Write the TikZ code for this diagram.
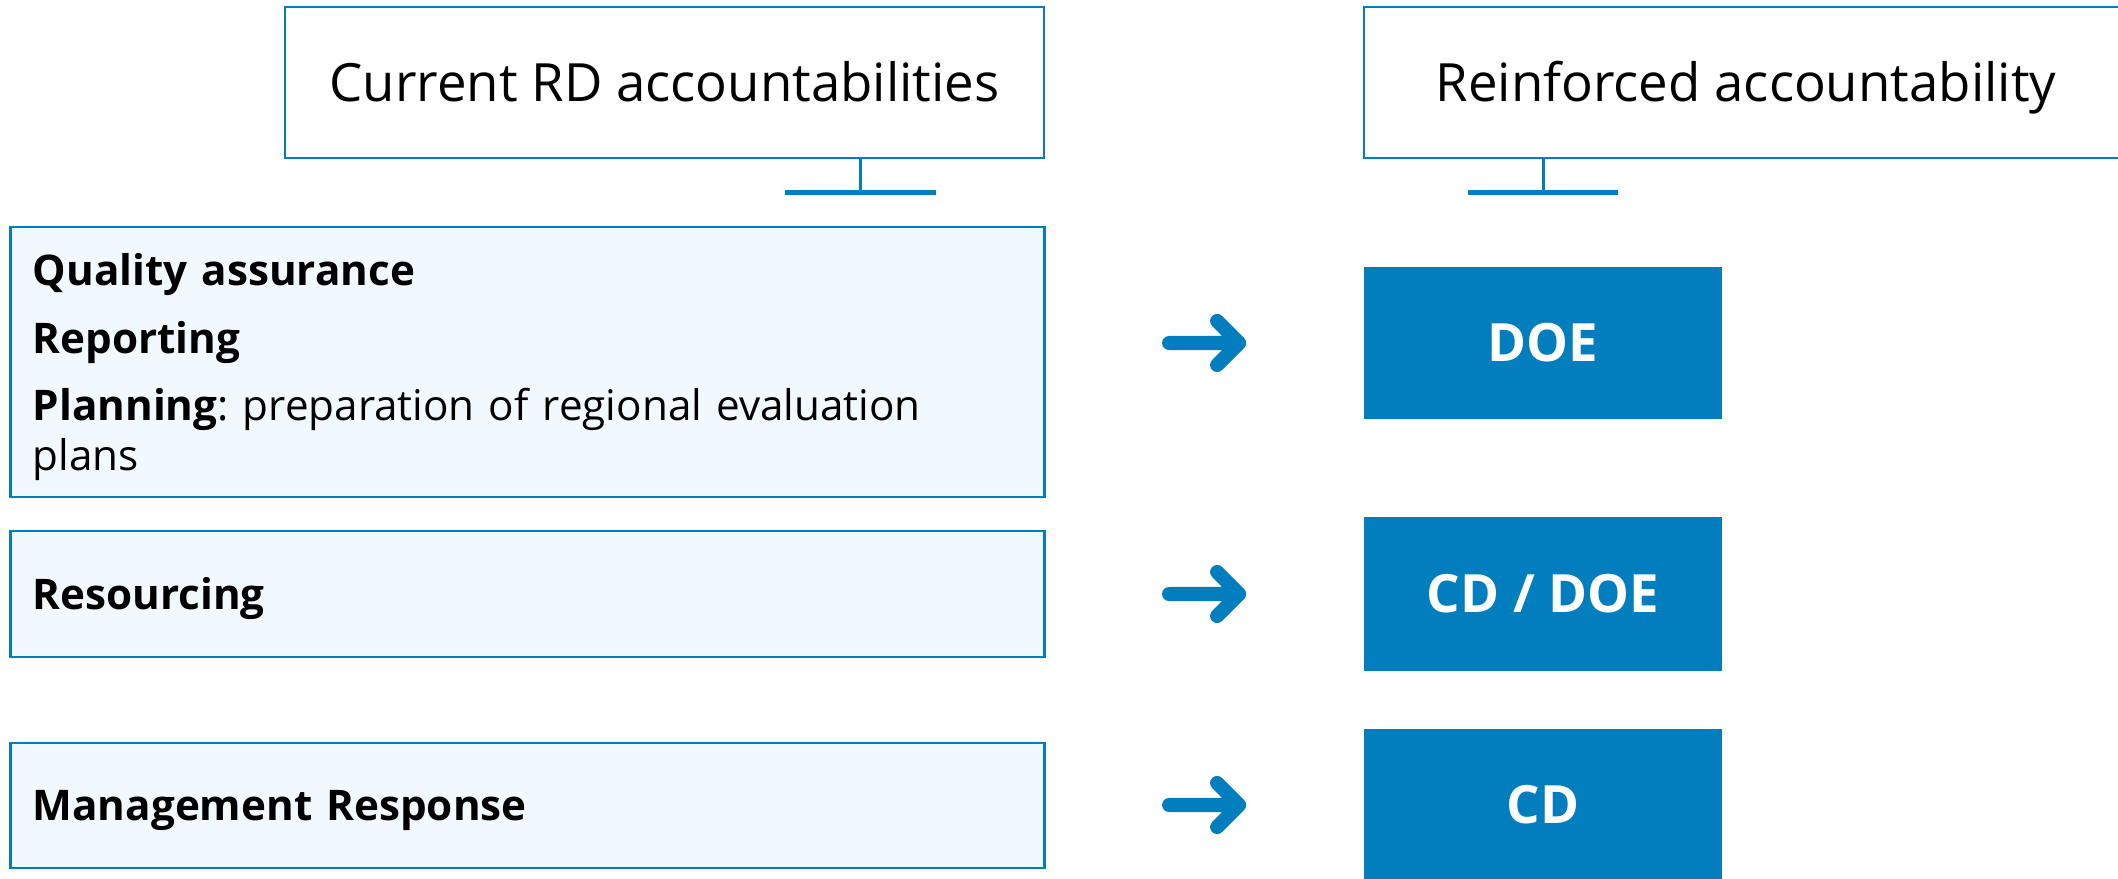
\documentclass[tikz,border=0pt]{standalone}
\usepackage{fontspec}
\setmainfont{Open Sans}
\usetikzlibrary{calc}
\definecolor{unblue}{RGB}{2,125,189}
\definecolor{paleblue}{RGB}{242,249,254}
\frenchspacing

\begin{document}
\begin{tikzpicture}
     [x=0.01cm,y=-0.01cm,line cap=round,
      % Styles
        header box/.style={draw=unblue,line width=0.6pt,fill=white,minimum height=1.51cm,
          font=\fontsize{15pt}{18pt}\selectfont,text height=10.7pt,text depth=0pt},
        duty box/.style={draw=unblue,line width=0.7pt,fill=paleblue,minimum width=10.33cm,
          text width=9.89cm,inner xsep=0.22cm,align=left,font=\fontsize{12pt}{14.2pt}\selectfont},
        one line/.style={text height=8.6pt,text depth=0pt},
        owner box/.style={fill=unblue,text=white,minimum width=3.58cm,
          font=\bfseries\fontsize{15pt}{18pt}\selectfont,text height=10.7pt,text depth=0pt},
        stem line/.style={unblue,line width=0.85pt,line cap=butt},
        foot line/.style={unblue,line width=1.42pt,line cap=butt},
        arrow icon/.style={unblue,line width=4pt,line join=round}]
    \useasboundingbox (0,0) rectangle (2118,878);
    % headings
    \node[header box,minimum width=7.59cm] (current) at (664.5,82.5) {Current RD accountabilities};
    \node[header box,minimum width=7.64cm] (reinforced) at (1746,82.5) {Reinforced accountability};
    % left column
    \node[duty box,minimum height=2.70cm] (quality) at (527.5,362)
      {\rule{0pt}{12pt}\textbf{Quality assurance}\\[5pt] \textbf{Reporting}\\[5pt] \textbf{Planning}: preparation of regional evaluation\\ plans};
    \node[duty box,one line,minimum height=1.26cm] (resourcing) at (527.5,594) {\textbf{Resourcing}};
    \node[duty box,one line,minimum height=1.25cm] (response) at (527.5,805.5) {\textbf{Management Response}};
    % right column
    \node[owner box,minimum height=1.52cm] (doe) at (1543,343) {DOE};
    \node[owner box,minimum height=1.54cm] (cddoe) at (1543,594) {CD / DOE};
    \node[owner box,minimum height=1.52cm] (cd) at (1543,805) {CD};
    % stems under the headings
    \draw[stem line] ($(current.south)+(195.5,0)$) -- ++(0,33) coordinate (currentfoot);
    \draw[foot line] ($(currentfoot)+(-75,0)$) -- ($(currentfoot)+(76,0)$);
    \draw[stem line] (reinforced.south -| doe.north) -- ++(0,33) coordinate (reinforcedfoot);
    \draw[foot line] ($(reinforcedfoot)+(-75,0)$) -- ($(reinforcedfoot)+(75,0)$);
    % arrows
    \foreach \n in {doe,cddoe,cd}
      \draw[arrow icon] ([xshift=-1.94cm]\n.west) -- ([xshift=-1.24cm]\n.west)
        ([xshift=-1.46cm,yshift=0.22cm]\n.west) -- ([xshift=-1.24cm]\n.west)
        -- ([xshift=-1.46cm,yshift=-0.22cm]\n.west);
\end{tikzpicture}
\end{document}
